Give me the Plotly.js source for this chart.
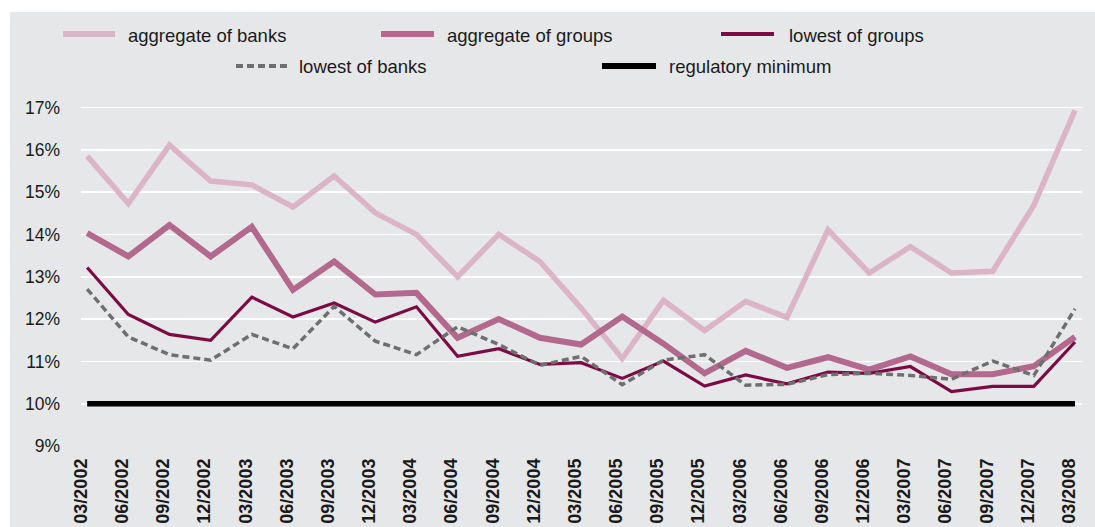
<!DOCTYPE html>
<html>
<head>
<meta charset="utf-8">
<script src="https://cdn.plot.ly/plotly-3.0.1.min.js"></script>
<style>
  html, body { margin: 0; padding: 0; background: #ffffff; width: 1095px; height: 527px; overflow: hidden; }
  #chart { position: absolute; left: 10px; top: 12px; width: 1085px; height: 515px; }
</style>
</head>
<body>
<div id="chart"></div>
<script>
// ---- data ----
var quarters = ['03/2002','06/2002','09/2002','12/2002','03/2003','06/2003','09/2003','12/2003',
                '03/2004','06/2004','09/2004','12/2004','03/2005','06/2005','09/2005','12/2005',
                '03/2006','06/2006','09/2006','12/2006','03/2007','06/2007','09/2007','12/2007','03/2008'];
var aggregateOfBanks  = [15.85,14.73,16.11,15.26,15.17,14.65,15.38,14.51,14.00,13.00,14.00,13.36,12.26,11.07,12.44,11.73,12.42,12.04,14.11,13.09,13.71,13.09,13.13,14.69,16.93];
var aggregateOfGroups = [14.03,13.48,14.22,13.48,14.18,12.69,13.36,12.58,12.62,11.56,12.00,11.56,11.40,12.06,11.42,10.72,11.25,10.85,11.10,10.81,11.12,10.70,10.70,10.89,11.58];
var lowestOfGroups    = [13.22,12.11,11.64,11.50,12.52,12.05,12.38,11.93,12.29,11.12,11.30,10.93,10.97,10.60,11.01,10.42,10.68,10.47,10.75,10.72,10.88,10.29,10.41,10.41,11.46];
var lowestOfBanks     = [12.71,11.58,11.16,11.03,11.64,11.30,12.30,11.48,11.16,11.82,11.40,10.91,11.12,10.45,11.03,11.16,10.44,10.46,10.69,10.72,10.67,10.58,11.01,10.67,12.24];
var regulatoryMinimum = [10,10,10,10,10,10,10,10,10,10,10,10,10,10,10,10,10,10,10,10,10,10,10,10,10];
var seriesNames = ['aggregate of banks','aggregate of groups','lowest of groups','lowest of banks','regulatory minimum'];
var yTickVals = [9,10,11,12,13,14,15,16,17];
var yTickText = ['9%','10%','11%','12%','13%','14%','15%','16%','17%'];

// ---- styles ----
var colors = ['#DBB4C6','#B3688E','#7C0A45','#6F6F6F','#000000'];
var widths = [5.5, 6, 3.2, 3.5, 5.5];
var dashes = ['solid','solid','solid','7px,4px','solid'];
var seriesData = [aggregateOfBanks, aggregateOfGroups, lowestOfGroups, lowestOfBanks, regulatoryMinimum];

var traces = seriesData.map(function (vals, i) {
  return {
    type: 'scatter', mode: 'lines', x: quarters, y: vals, name: seriesNames[i],
    line: { color: colors[i], width: widths[i], dash: dashes[i] },
    showlegend: false, hoverinfo: 'skip'
  };
});

// custom legend placement (page pixels -> paper coords)
var divW = 1085, divH = 515, offX = 10, offY = 12;
var mL = 71, mR = 13, mT = 92, mB = 80;
var plotW = divW - mL - mR, plotH = divH - mT - mB;
function px(x) { return (x - offX - mL) / plotW; }
function py(y) { return (divH - mB - (y - offY)) / plotH; }
var legendItems = [
  { x0: 63,  x1: 115, tx: 126, y: 34 },
  { x0: 381, x1: 434, tx: 445, y: 34 },
  { x0: 721, x1: 774, tx: 787, y: 34 },
  { x0: 236, x1: 290, tx: 297, y: 66 },
  { x0: 602, x1: 656, tx: 667, y: 66 }
];
var shapes = [], annotations = [];
legendItems.forEach(function (it, i) {
  shapes.push({
    type: 'line', xref: 'paper', yref: 'paper',
    x0: px(it.x0), x1: px(it.x1), y0: py(it.y), y1: py(it.y),
    line: { color: colors[i], width: (i === 2 ? 4 : (i === 3 ? 4 : 6)), dash: dashes[i] }
  });
  annotations.push({
    xref: 'paper', yref: 'paper', x: px(it.tx), y: py(it.y + 1),
    xanchor: 'left', yanchor: 'middle', showarrow: false, text: seriesNames[i],
    font: { family: 'Liberation Sans, Arial, sans-serif', size: 18.5, color: '#1a1a1a' }
  });
});

var layout = {
  width: divW, height: divH,
  margin: { l: mL, r: mR, t: mT, b: mB, pad: 0 },
  paper_bgcolor: '#E6E7E8', plot_bgcolor: '#E6E7E8',
  showlegend: false,
  xaxis: {
    type: 'category', range: [-0.15, 24.17],
    showgrid: false, zeroline: false, showline: false, ticks: '',
    tickangle: -90, ticklabelstandoff: 7, ticklabelshift: -6,
    tickfont: { family: 'Liberation Sans, Arial, sans-serif', size: 18, color: '#1a1a1a', weight: 'bold' }
  },
  yaxis: {
    range: [8.98, 17.08], tickvals: yTickVals, ticktext: yTickText,
    showgrid: true, gridcolor: '#ffffff', gridwidth: 1.6,
    zeroline: false, showline: false, ticks: '', ticklabelstandoff: 20,
    tickfont: { family: 'Liberation Sans, Arial, sans-serif', size: 17.5, color: '#1a1a1a' }
  },
  shapes: shapes,
  annotations: annotations
};

Plotly.newPlot('chart', traces, layout, { staticPlot: true, displayModeBar: false });
</script>
</body>
</html>
